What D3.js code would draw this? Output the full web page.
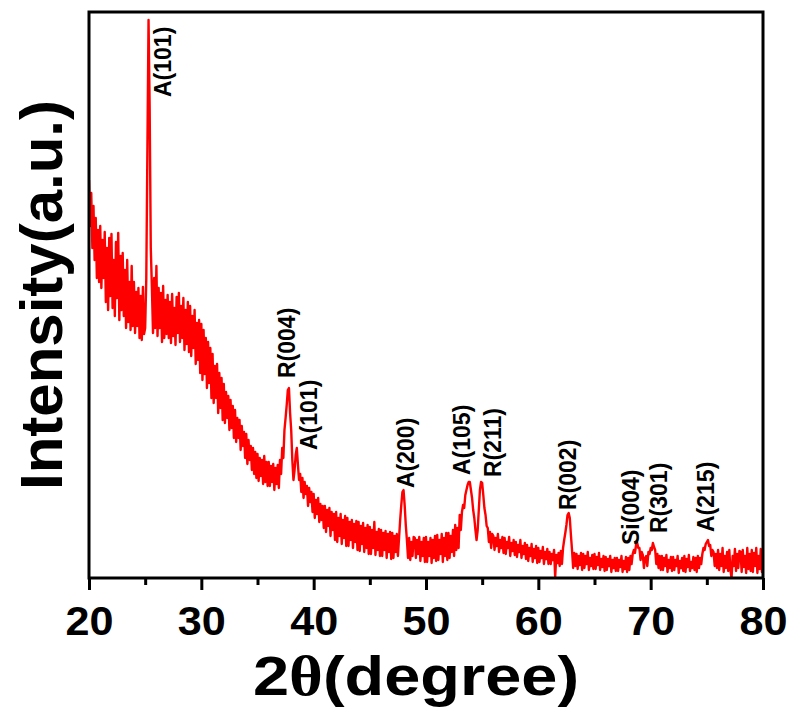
<!DOCTYPE html>
<html><head><meta charset="utf-8">
<script src="https://cdn.jsdelivr.net/npm/d3@7"></script>
<style>body{margin:0;background:#fff}svg{display:block}</style>
</head><body>
<script>
// 2θ start and step of the scan
const thetaStart = 20.0;
const thetaStep = 0.1;
// Intensity (a.u.), one value per 0.1°, 20.0 … 80.0
const intensity = [
398,352,385,330,372,318,360,300,348,296,
352,290,338,300,346,276,330,268,340,282,
344,270,318,262,336,280,345,258,322,268,
325,262,308,250,318,256,296,248,312,252,
296,245,286,252,290,240,282,238,291,244,
250,300,430,558,470,330,290,245,300,250,
312,242,290,250,285,236,292,240,278,244,
283,240,276,235,284,242,270,233,281,245,
285,236,272,240,280,228,268,234,276,226,
272,222,262,230,268,214,255,218,258,205,
254,198,248,204,240,190,236,195,230,180,
224,175,212,180,214,165,205,170,200,158,
194,155,186,160,182,148,178,150,172,140,
168,136,160,140,158,128,152,132,146,120,
144,114,138,118,132,108,130,104,126,100,
124,97,120,102,118,94,122,96,116,92,
116,92,112,96,114,88,110,94,113,90,
118,104,130,120,148,160,173,188,190,165,
148,118,98,108,123,130,113,98,104,86,
100,80,96,84,92,72,90,76,86,66,
84,60,78,64,80,56,74,58,72,50,
72,46,68,52,70,42,66,48,64,38,
66,36,60,42,64,34,58,40,62,32,
60,32,56,38,58,30,54,36,57,28,
56,27,52,34,55,26,50,30,53,24,
51,24,48,30,56,23,46,28,49,22,
48,22,45,28,47,20,44,26,46,19,
45,20,42,26,44,22,40,58,73,86,
88,73,53,38,20,40,18,36,22,41,
40,20,38,24,41,17,36,22,40,16,
41,16,36,22,40,15,38,20,42,17,
43,18,38,24,44,16,40,22,45,18,
45,20,42,26,48,22,53,28,50,30,
63,48,66,73,70,83,88,93,96,96,
88,80,68,60,48,38,48,68,88,96,
95,83,70,63,52,50,36,46,30,44,
42,28,40,32,44,26,38,30,41,25,
40,24,36,30,41,22,35,27,38,23,
36,21,33,26,38,20,32,24,35,19,
33,17,30,22,34,16,29,20,32,15,
30,16,27,20,31,14,26,19,29,14,
26,14,24,18,28,1,23,15,25,12,
27,14,30,38,45,53,63,65,60,43,
28,10,25,12,24,9,22,13,25,8,
24,10,22,14,26,8,20,12,23,9,
24,9,21,13,25,8,19,11,22,7,
21,8,19,12,22,6,18,10,20,7,
20,7,18,11,22,6,17,9,21,6,
20,8,22,14,24,28,25,33,35,30,
30,18,26,23,10,20,22,12,26,24,
30,28,35,31,28,14,24,10,22,8,
22,8,20,12,23,6,18,10,21,7,
21,8,18,12,22,5,17,10,20,7,
22,6,19,11,23,7,16,10,21,8,
20,6,22,10,20,14,24,30,28,34,
36,38,32,33,22,28,26,12,24,10,
28,8,24,12,30,6,22,10,26,7,
28,8,0,22,12,29,7,24,10,27,
26,6,28,11,22,5,30,9,24,7,
28,6,25,12,30,5,22,9,29,6,
22
];
const xTicks = [20,30,40,50,60,70,80];
const xMinorTicks = [25,35,45,55,65,75];
// Peak annotations: text, 2θ of label anchor, intensity of label start
const peakNames = ["A(101)","R(004)","A(101)","A(200)","A(105)","R(211)","R(002)","Si(004)","R(301)","A(215)"];
const peakLabelTheta = [27.3,38.34,40.3,48.93,53.92,56.68,63.35,68.96,71.45,75.64];
const peakLabelI = [481,200,128,90,103,101,68,33,45,46];

const W = 790, H = 711;
const m = {left:89, top:12, right:763, bottom:578};
const svg = d3.select("body").append("svg").attr("width",W).attr("height",H);
const x = d3.scaleLinear().domain([20,80]).range([m.left,m.right]);
const y = d3.scaleLinear().domain([0,566]).range([m.bottom,m.top]);

const data = intensity.map((v,i)=>({t: thetaStart + i*thetaStep, v}));

svg.append("clipPath").attr("id","clip").append("rect")
  .attr("x",m.left).attr("y",m.top).attr("width",m.right-m.left).attr("height",m.bottom-m.top);

svg.append("path").datum(data)
  .attr("clip-path","url(#clip)")
  .attr("fill","none").attr("stroke","#ff0000").attr("stroke-width",2.4)
  .attr("stroke-linejoin","round")
  .attr("d", d3.line().x(d=>x(d.t)).y(d=>y(d.v)));

// frame
svg.append("rect").attr("x",m.left).attr("y",m.top)
  .attr("width",m.right-m.left).attr("height",m.bottom-m.top)
  .attr("fill","none").attr("stroke","#000").attr("stroke-width",3);

// axes
const gx = svg.append("g").attr("transform",`translate(0,${m.bottom})`)
  .call(d3.axisBottom(x).tickValues(xTicks).tickSize(12).tickPadding(8).tickFormat(d3.format("d")));
gx.select(".domain").remove();
gx.selectAll("line").attr("stroke","#000").attr("stroke-width",3);
gx.selectAll("text").attr("font-family","Liberation Sans, Arial, sans-serif")
  .attr("font-weight","bold").attr("font-size",41).attr("fill","#000")
  .attr("dy",null).attr("y",57)
  .attr("textLength",48).attr("lengthAdjust","spacingAndGlyphs");

const gm = svg.append("g").attr("transform",`translate(0,${m.bottom})`)
  .call(d3.axisBottom(x).tickValues(xMinorTicks).tickSize(7).tickFormat(""));
gm.select(".domain").remove();
gm.selectAll("line").attr("stroke","#000").attr("stroke-width",3);

// axis titles
const xt = svg.append("text").attr("x",416).attr("y",695).attr("text-anchor","middle")
  .attr("font-family","Liberation Sans, Arial, sans-serif").attr("font-weight","bold").attr("font-size",56)
  .attr("textLength",326).attr("lengthAdjust","spacingAndGlyphs");
xt.append("tspan").text("2");
xt.append("tspan").attr("font-family","Liberation Serif, Times New Roman, serif").text("θ");
xt.append("tspan").text("(degree)");

svg.append("text").attr("transform","translate(62,295) rotate(-90)")
  .attr("text-anchor","middle")
  .attr("font-family","Liberation Sans, Arial, sans-serif").attr("font-weight","bold").attr("font-size",60)
  .text("Intensity(a.u.)");

// peak labels
svg.append("g").selectAll("text").data(peakNames).join("text")
  .attr("transform",(d,i)=>`translate(${x(peakLabelTheta[i])},${y(peakLabelI[i])}) rotate(-90)`)
  .attr("font-family","Liberation Sans, Arial, sans-serif").attr("font-weight","bold")
  .attr("font-size",23).attr("fill","#000")
  .text(d=>d);
</script>
</body></html>
